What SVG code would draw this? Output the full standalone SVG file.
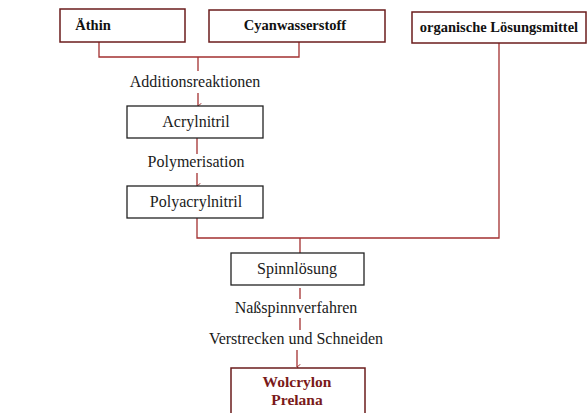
<svg xmlns="http://www.w3.org/2000/svg" width="588" height="413" viewBox="0 0 588 413">
<defs>
<marker id="ah" viewBox="0 0 10 10" refX="5" refY="9" markerWidth="7" markerHeight="7" orient="auto-start-reverse" markerUnits="userSpaceOnUse">
<path d="M1 4 L5 9 L9 4" fill="none" stroke="#9a2a2a" stroke-width="1.3"/>
</marker>
<style>
.box{fill:#fff;stroke:#6b1c1c;stroke-width:1.5}
.boxk{fill:#fff;stroke:#222;stroke-width:1.3}
text{font-family:'Liberation Serif','Times New Roman','DejaVu Serif',serif}
.t{font-size:16px;fill:#1a1a1a;text-anchor:middle}
.tb{font-size:14.5px;font-weight:bold;fill:#111;text-anchor:middle}
.tr{font-size:15.5px;font-weight:bold;fill:#7a1a1a;text-anchor:middle}
.c{fill:none;stroke:#a33030;stroke-width:1.3}
</style>
</defs>
<rect width="588" height="413" fill="#fff"/>
<g id="connectors">
<polyline class="c" points="99,42 99,57 299,57 299,42"/>
<line class="c" x1="198" y1="57" x2="198" y2="71"/>
<line class="c" x1="198" y1="93" x2="198" y2="106" marker-end="url(#ah)"/>
<line class="c" x1="197" y1="138" x2="197" y2="154"/>
<line class="c" x1="197" y1="173" x2="197" y2="186" marker-end="url(#ah)"/>
<polyline class="c" points="197,218 197,238 499,238 499,43"/>
<line class="c" x1="300" y1="238" x2="300" y2="253"/>
<line class="c" x1="300" y1="288" x2="300" y2="299"/>
<line class="c" x1="300" y1="318" x2="300" y2="330"/>
<line class="c" x1="297" y1="350" x2="297" y2="367" marker-end="url(#ah)"/>
</g>
<g id="aethin"><rect class="box" x="60" y="9" width="125" height="33"/><text class="tb" x="93" y="30">Äthin</text></g>
<g id="cyan"><rect class="box" x="209" y="10" width="176" height="32"/><text class="tb" x="295" y="30">Cyanwasserstoff</text></g>
<g id="loesung"><rect class="box" x="412" y="12" width="174" height="31"/><text class="tb" x="499" y="32">organische Lösungsmittel</text></g>
<text class="t" x="195" y="87">Additionsreaktionen</text>
<g id="acryl"><rect class="boxk" x="127" y="106" width="136" height="32"/><text class="t" x="196" y="127">Acrylnitril</text></g>
<text class="t" x="196" y="167">Polymerisation</text>
<g id="poly"><rect class="boxk" x="127" y="186" width="136" height="32"/><text class="t" x="196" y="207">Polyacrylnitril</text></g>
<g id="spinn"><rect class="boxk" x="231" y="253" width="133" height="32"/><text class="t" x="297" y="274">Spinnlösung</text></g>
<text class="t" x="296" y="313">Naßspinnverfahren</text>
<text class="t" x="296" y="344">Verstrecken und Schneiden</text>
<g id="wolcrylon"><rect class="box" x="231" y="368" width="134" height="50"/><text class="tr" x="297" y="387">Wolcrylon</text><text class="tr" x="297" y="405">Prelana</text></g>
</svg>
